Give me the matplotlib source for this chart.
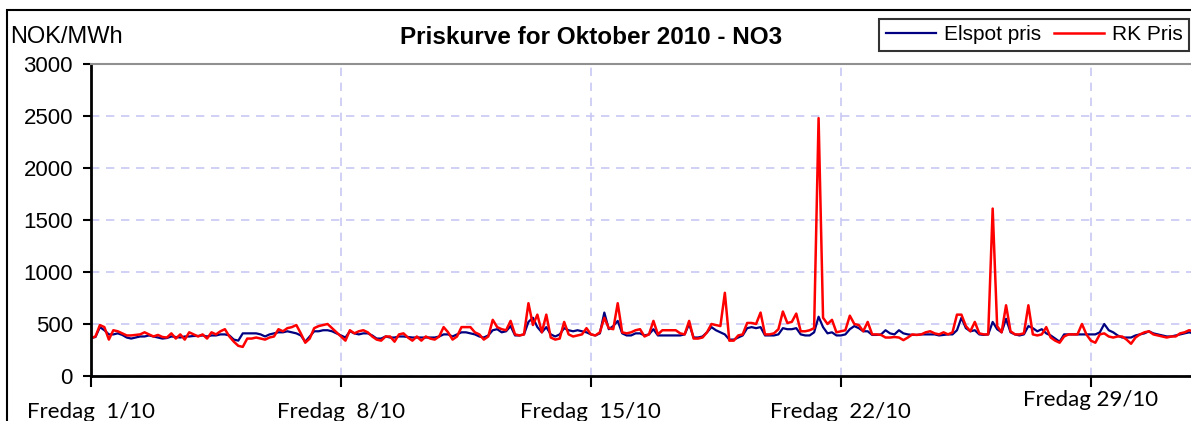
import numpy as np
import matplotlib
matplotlib.use('Agg')
import matplotlib.pyplot as plt
from matplotlib.patches import Rectangle

# 3-hourly prices, October 2010 (one row per day, 8 values)
elspot = [
    365, 375, 470, 440, 400, 400, 410, 395,
    370, 360, 370, 380, 380, 390, 380, 370,
    360, 365, 380, 375, 370, 380, 380, 385,
    385, 390, 380, 390, 390, 400, 400, 390,
    350, 340, 410, 410, 410, 410, 400, 380,
    400, 410, 420, 420, 430, 420, 410, 390,
    330, 380, 430, 430, 440, 440, 430, 410,
    390, 370, 430, 410, 400, 410, 410, 390,
    360, 360, 380, 370, 370, 380, 380, 375,
    370, 370, 370, 370, 370, 370, 380, 400,
    400, 380, 400, 420, 420, 410, 400, 380,
    370, 390, 440, 450, 420, 430, 480, 390,
    390, 400, 520, 560, 470, 420, 470, 400,
    380, 400, 460, 440, 430, 440, 430, 420,
    400, 390, 410, 610, 450, 480, 530, 410,
    390, 390, 410, 410, 390, 400, 450, 390,
    390, 390, 390, 390, 390, 400, 500, 370,
    370, 380, 420, 470, 440, 420, 400, 350,
    350, 370, 390, 460, 470, 460, 470, 390,
    390, 390, 400, 460, 450, 450, 460, 400,
    390, 390, 420, 570, 470, 410, 420, 390,
    390, 400, 450, 480, 460, 430, 430, 395,
    395, 400, 440, 410, 400, 440, 410, 400,
    395, 395, 400, 400, 400, 400, 390, 395,
    400, 400, 440, 560, 460, 430, 440, 400,
    395, 400, 520, 450, 420, 550, 420, 400,
    390, 400, 480, 460, 430, 450, 410, 390,
    360, 330, 400, 400, 400, 400, 400, 400,
    400, 400, 420, 500, 440, 420, 390, 370,
    370, 370, 390, 400, 410, 430, 410, 400,
    390, 380, 380, 390, 400, 410, 420, 410,
]

rk = [
    365, 380, 490, 470, 350, 440, 430, 410,
    390, 390, 395, 400, 420, 400, 380, 395,
    375, 370, 410, 360, 400, 350, 420, 400,
    380, 400, 360, 420, 400, 430, 450, 380,
    330, 290, 280, 360, 360, 370, 360, 350,
    370, 380, 450, 430, 460, 470, 490, 410,
    320, 360, 460, 480, 490, 500, 460, 420,
    380, 340, 440, 410, 430, 440, 420, 380,
    350, 340, 380, 380, 330, 400, 410, 370,
    340, 380, 340, 380, 360, 350, 380, 470,
    420, 350, 380, 470, 470, 470, 420, 400,
    350, 380, 540, 470, 450, 440, 530, 400,
    390, 400, 700, 490, 590, 420, 590, 370,
    350, 360, 520, 400, 380, 390, 400, 460,
    400, 390, 420, 560, 460, 450, 700, 420,
    410, 420, 440, 450, 380, 400, 530, 400,
    440, 440, 440, 440, 410, 400, 530, 360,
    360, 370, 420, 500, 490, 480, 800, 340,
    340, 390, 400, 510, 510, 500, 610, 400,
    400, 410, 450, 620, 510, 520, 600, 430,
    430, 440, 460, 2480, 560, 500, 540, 420,
    430, 440, 580, 500, 490, 430, 520, 400,
    400, 395, 370, 370, 375, 370, 345, 370,
    400, 395, 400, 420, 430, 410, 400, 420,
    400, 420, 590, 590, 480, 430, 520, 410,
    400, 400, 1610, 480, 420, 680, 430, 400,
    400, 410, 680, 400, 390, 400, 470, 370,
    340, 320, 380, 400, 400, 400, 500, 400,
    340, 320, 400, 410, 380, 370, 380, 380,
    350, 310, 370, 400, 420, 430, 400, 390,
    380, 370, 380, 380, 410, 420, 440, 430,
]

week_ticks = [0, 168, 336, 504, 672]
week_labels = ['Fredag  1/10', 'Fredag  8/10', 'Fredag  15/10', 'Fredag  22/10', 'Fredag 29/10']
y_ticks = [0, 500, 1000, 1500, 2000, 2500, 3000]

hours = np.arange(len(elspot)) * 3

W, H = 1191, 421
fig = plt.figure(figsize=(W / 100, H / 100), dpi=100)
plt.rcParams['font.family'] = ['Liberation Sans', 'DejaVu Sans']

# outer chart frame
fig.patches.append(Rectangle((7 / W, -0.1), 1.2, 1.1 - 10 / H, transform=fig.transFigure,
                             fill=False, edgecolor='black', linewidth=1.5))

ax = fig.add_axes([91 / W, (H - 376) / H, (1198 - 91) / W, 312 / H])
ax.plot(hours, elspot, color='#000080', linewidth=1.6, label='Elspot pris')
ax.plot(hours, rk, color='#ff0000', linewidth=1.8, label='RK Pris')

ax.set_xlim(0, 744)
ax.set_ylim(0, 3000)
ax.set_yticks(y_ticks)
ax.set_xticks(week_ticks)
ax.set_xticklabels(week_labels, family=['Lato', 'DejaVu Sans'], fontsize=16)
ax.tick_params(axis='y', labelsize=16, length=6, width=1.5, direction='out', pad=7)
ax.tick_params(axis='x', length=8, width=1.5, direction='out', pad=11)
# last label sits a bit higher in the original
ax.xaxis.get_major_ticks()[4].set_pad(2)

ax.grid(True, color='#c8c8f4', linestyle=(0, (5, 4)), linewidth=1.2)
ax.set_axisbelow(True)
ax.spines['left'].set_linewidth(2)
ax.spines['bottom'].set_linewidth(2)
ax.spines['top'].set_color('#909090')
ax.spines['top'].set_linewidth(1.5)
ax.spines['right'].set_visible(False)

fig.text(10 / W, 1 - 37 / H, 'NOK/MWh', fontsize=17, va='center', ha='left')
fig.text(591 / W, 1 - 37 / H, 'Priskurve for Oktober 2010 - NO3', fontsize=17.5,
         fontweight='bold', va='center', ha='center')

leg = fig.legend(loc='upper right', bbox_to_anchor=(1189 / W, 1 - 19 / H), ncol=2,
                 fontsize=15, frameon=True, fancybox=False, handlelength=2.4,
                 borderpad=0.3, columnspacing=0.6, handletextpad=0.4, borderaxespad=0)
leg.get_frame().set_edgecolor('black')
leg.get_frame().set_linewidth(1.5)

fig.savefig('out.png', dpi=100)
